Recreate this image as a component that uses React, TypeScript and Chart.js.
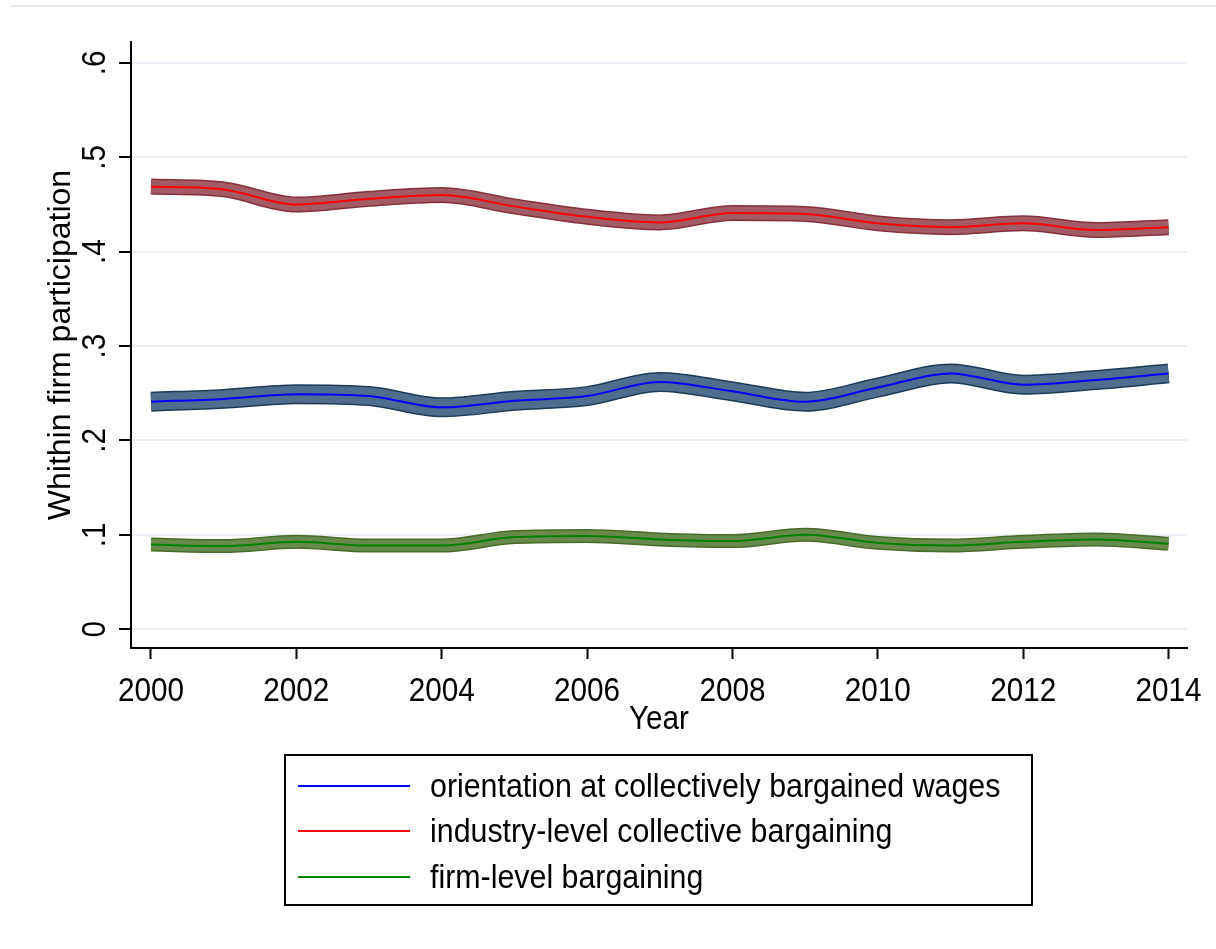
import React, { useEffect, useRef } from "react";
import { Chart, registerables } from "chart.js";

Chart.register(...registerables);

// Yearly shares of within-firm participation by bargaining regime
const years = [2000, 2001, 2002, 2003, 2004, 2005, 2006, 2007, 2008, 2009, 2010, 2011, 2012, 2013, 2014];
const orientationWages = [0.241, 0.244, 0.249, 0.247, 0.235, 0.242, 0.247, 0.262, 0.252, 0.241, 0.256, 0.271, 0.259, 0.264, 0.271];
const industryLevel = [0.469, 0.466, 0.450, 0.456, 0.460, 0.448, 0.437, 0.431, 0.441, 0.440, 0.430, 0.426, 0.430, 0.423, 0.426];
const firmLevel = [0.0896, 0.0880, 0.0925, 0.0885, 0.0885, 0.0976, 0.0988, 0.0950, 0.0933, 0.0999, 0.0914, 0.0885, 0.0925, 0.0950, 0.0906];

const seriesLabels = [
  "orientation at collectively bargained wages",
  "industry-level collective bargaining",
  "firm-level bargaining",
];

const xTickYears = [2000, 2002, 2004, 2006, 2008, 2010, 2012, 2014];
const yTickValues = [0, 0.1, 0.2, 0.3, 0.4, 0.5, 0.6];
const yTickLabels = ["0", ".1", ".2", ".3", ".4", ".5", ".6"];

const yTitle = "Whithin firm participation";
const xTitle = "Year";

const FONT = "'Liberation Sans', Arial, sans-serif";

type SeriesStyle = { line: string; fill: string; edge: string; band: number };

const styles: SeriesStyle[] = [
  { line: "#0000ff", fill: "#4f6d8d", edge: "#1d3b5b", band: 20 },
  { line: "#ff0000", fill: "#a15c66", edge: "#873039", band: 16 },
  { line: "#008000", fill: "#6a8a4b", edge: "#4a6a2a", band: 14 },
];

const seriesValues = [orientationWages, industryLevel, firmLevel];

function drawText(
  ctx: CanvasRenderingContext2D,
  text: string,
  x: number,
  y: number,
  opts: { size: number; sx?: number; align?: CanvasTextAlign; rotate?: number }
) {
  ctx.save();
  ctx.translate(x, y);
  if (opts.rotate) ctx.rotate(opts.rotate);
  ctx.scale(opts.sx ?? 1, 1);
  ctx.font = `${opts.size}px ${FONT}`;
  ctx.fillStyle = "#000";
  ctx.textAlign = opts.align ?? "left";
  ctx.textBaseline = "alphabetic";
  ctx.fillText(text, 0, 0);
  ctx.restore();
}

const textPlugin = {
  id: "stataText",
  afterDraw(chart: any) {
    const { ctx, chartArea, scales } = chart;
    const xs = scales.x;
    const ys = scales.y;

    // y tick labels, rotated
    yTickValues.forEach((v, i) => {
      const py = ys.getPixelForValue(v);
      drawText(ctx, yTickLabels[i], 105, py, { size: 33, sx: 0.9, align: "center", rotate: -Math.PI / 2 });
    });

    // x tick labels
    xTickYears.forEach((yr) => {
      const px = xs.getPixelForValue(yr);
      drawText(ctx, String(yr), px, 701, { size: 33, sx: 0.9, align: "center" });
    });

    // axis titles
    const midY = (chartArea.top + chartArea.bottom) / 2;
    drawText(ctx, yTitle, 70, midY, { size: 32, sx: 1, align: "center", rotate: -Math.PI / 2 });
    const midX = (chartArea.left + chartArea.right) / 2;
    drawText(ctx, xTitle, midX, 729, { size: 33, sx: 0.9, align: "center" });

    // legend box
    ctx.save();
    ctx.strokeStyle = "#000";
    ctx.lineWidth = 2;
    ctx.strokeRect(285, 755, 747, 150);
    const rows = [786, 831, 877];
    rows.forEach((ry, i) => {
      ctx.beginPath();
      ctx.strokeStyle = styles[i].line;
      ctx.lineWidth = 2;
      ctx.moveTo(298, ry);
      ctx.lineTo(410, ry);
      ctx.stroke();
      drawText(ctx, seriesLabels[i], 430, ry + 11, { size: 33, sx: 0.92 });
    });
    ctx.restore();
  },
};

export default function App() {
  const canvasRef = useRef<HTMLCanvasElement | null>(null);

  useEffect(() => {
    if (!canvasRef.current) return;

    const datasets: any[] = [];
    seriesValues.forEach((vals, i) => {
      const pts = years.map((yr, k) => ({ x: yr, y: vals[k] }));
      const st = styles[i];
      const common = {
        data: pts,
        pointRadius: 0,
        pointHoverRadius: 0,
        cubicInterpolationMode: "monotone",
        borderCapStyle: "butt",
        borderJoinStyle: "round",
        fill: false,
      };
      datasets.push({ ...common, label: seriesLabels[i] + " band edge", borderColor: st.edge, borderWidth: st.band, order: 3 });
      datasets.push({ ...common, label: seriesLabels[i] + " band", borderColor: st.fill, borderWidth: st.band - 3, order: 2 });
      datasets.push({ ...common, label: seriesLabels[i], borderColor: st.line, borderWidth: 2, order: 1 });
    });

    const chart = new Chart(canvasRef.current, {
      type: "line",
      data: { datasets },
      options: {
        responsive: false,
        animation: false,
        layout: { padding: { left: 118, top: 42, right: 29, bottom: 290 } },
        plugins: { legend: { display: false }, tooltip: { enabled: false } },
        scales: {
          x: {
            type: "linear",
            min: 1999.725,
            max: 2014.254,
            afterBuildTicks: (s: any) => {
              s.ticks = xTickYears.map((v) => ({ value: v }));
            },
            afterFit: (s: any) => {
              s.height = 11;
            },
            ticks: { display: false },
            grid: { drawOnChartArea: false, drawTicks: true, tickLength: 11, tickColor: "#000", tickWidth: 2 },
            border: { display: true, color: "#000", width: 2 },
          },
          y: {
            type: "linear",
            min: -0.02,
            max: 0.6222,
            afterBuildTicks: (s: any) => {
              s.ticks = yTickValues.map((v) => ({ value: v }));
            },
            afterFit: (s: any) => {
              s.width = 13;
            },
            ticks: { display: false },
            grid: { color: "#eaeff6", lineWidth: 2, drawTicks: true, tickLength: 12, tickColor: "#000", tickWidth: 2 },
            border: { display: true, color: "#000", width: 2 },
          },
        },
      },
      plugins: [textPlugin],
    });

    return () => chart.destroy();
  }, []);

  return (
    <div style={{ position: "fixed", left: 0, top: 0, width: 1216, height: 949, background: "#fff", overflow: "hidden" }}>
      <div style={{ position: "absolute", left: 10, right: 0, top: 5, height: 2, background: "#e8ebf4" }} />
      <canvas ref={canvasRef} width={1216} height={949} style={{ position: "absolute", left: 0, top: 0 }} />
    </div>
  );
}
